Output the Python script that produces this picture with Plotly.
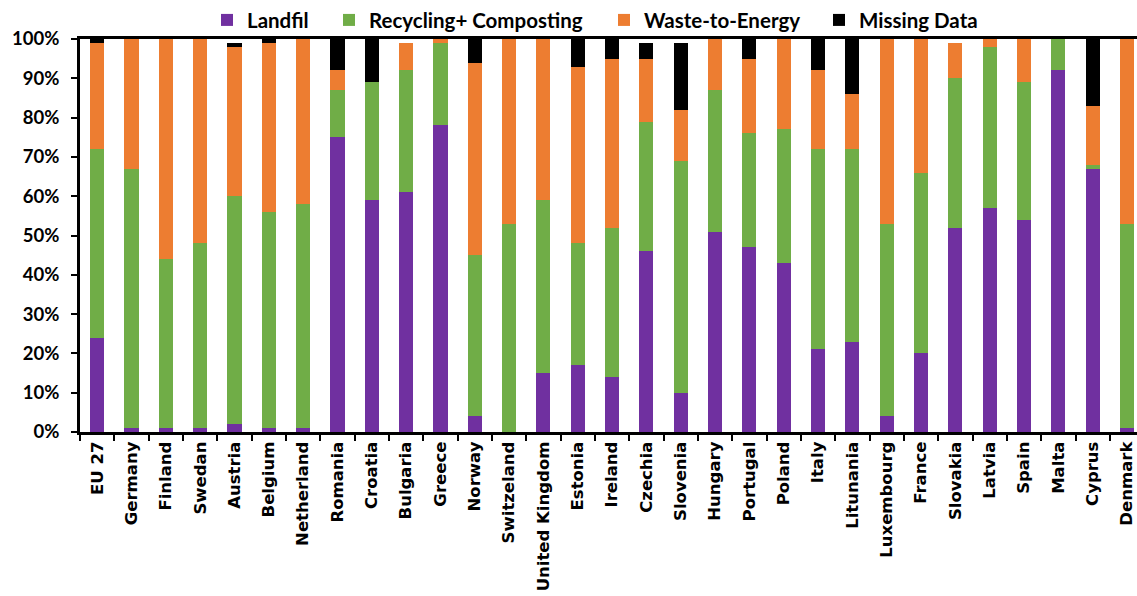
import plotly.graph_objects as go

countries = ["EU 27", "Germany", "Finland", "Swedan", "Austria", "Belgium", "Netherland",
             "Romania", "Croatia", "Bulgaria", "Greece", "Norway", "Switzeland",
             "United Kingdom", "Estonia", "Ireland", "Czechia", "Slovenia", "Hungary",
             "Portugal", "Poland", "Italy", "Litunania", "Luxembourg", "France",
             "Slovakia", "Latvia", "Spain", "Malta", "Cyprus", "Denmark"]

# Shares of municipal waste by treatment route (%)
landfil = [24, 1, 1, 1, 2, 1, 1, 75, 59, 61, 78, 4, 0, 15, 17, 14, 46, 10, 51,
           47, 43, 21, 23, 4, 20, 52, 57, 54, 92, 67, 1]
recycling = [48, 66, 43, 47, 58, 55, 57, 12, 30, 31, 21, 41, 53, 44, 31, 38, 33, 59, 36,
             29, 34, 51, 49, 49, 46, 38, 41, 35, 8, 1, 52]
waste_to_energy = [27, 33, 56, 52, 38, 43, 42, 5, 0, 7, 1, 49, 47, 41, 45, 43, 16, 13, 13,
                   19, 23, 20, 14, 47, 34, 9, 2, 11, 0, 15, 47]
missing = [1, 0, 0, 0, 1, 1, 0, 8, 11, 0, 0, 6, 0, 0, 7, 5, 4, 17, 0,
           5, 0, 8, 14, 0, 0, 0, 0, 0, 0, 17, 0]

# name, values, colour, legend id, legend left edge (px)
series = [
    ("Landfil", landfil, "#7030A0", "legend", 207),
    ("Recycling+ Composting", recycling, "#70AD47", "legend2", 329),
    ("Waste-to-Energy", waste_to_energy, "#ED7D31", "legend3", 604),
    ("Missing Data", missing, "#000000", "legend4", 819),
]

W, H = 1137, 596
ML, MR, MT, MB = 80, 0, 37, 164
plot_w, plot_h = W - ML - MR, H - MT - MB

fig = go.Figure()
for name, vals, color, leg, _ in series:
    fig.add_trace(go.Bar(
        x=countries, y=[v / 100 for v in vals], name=name,
        marker=dict(color=color, line=dict(width=0)),
        legend=leg, showlegend=True,
    ))

legend_font = dict(family="Lato", size=20.5, color="#000000", weight="bold")
legends = {}
for name, _, _, leg, px in series:
    legends[leg] = dict(
        x=(px - ML) / plot_w, xref="paper", xanchor="left",
        y=1 + (MT - 18) / plot_h, yref="paper", yanchor="middle",
        orientation="h", font=legend_font, bgcolor="rgba(0,0,0,0)",
        borderwidth=0, itemclick=False, itemdoubleclick=False,
    )

fig.update_layout(
    width=W, height=H,
    margin=dict(l=ML, r=MR, t=MT, b=MB),
    showlegend=True,
    barmode="stack", bargap=0.59,
    plot_bgcolor="white", paper_bgcolor="white",
    **legends,
    xaxis=dict(
        range=[-0.5, 30.29],
        showline=True, linecolor="black", linewidth=3, mirror=True,
        ticks="outside", tickson="boundaries", ticklen=6, tickwidth=2, tickcolor="black",
        tickangle=-90, showgrid=False,
        tickfont=dict(family="DejaVu Sans", size=16.5, color="#000000", weight="bold"),
    ),
    yaxis=dict(
        range=[0, 1], dtick=0.1, tickformat=".0%",
        showline=True, linecolor="black", linewidth=3,
        ticks="outside", ticklen=6, tickwidth=2, tickcolor="black",
        ticklabelstandoff=8,
        showgrid=False, zeroline=False,
        tickfont=dict(family="Lato", size=18.5, color="#000000", weight="bold"),
    ),
)

fig.write_html("out.html")
